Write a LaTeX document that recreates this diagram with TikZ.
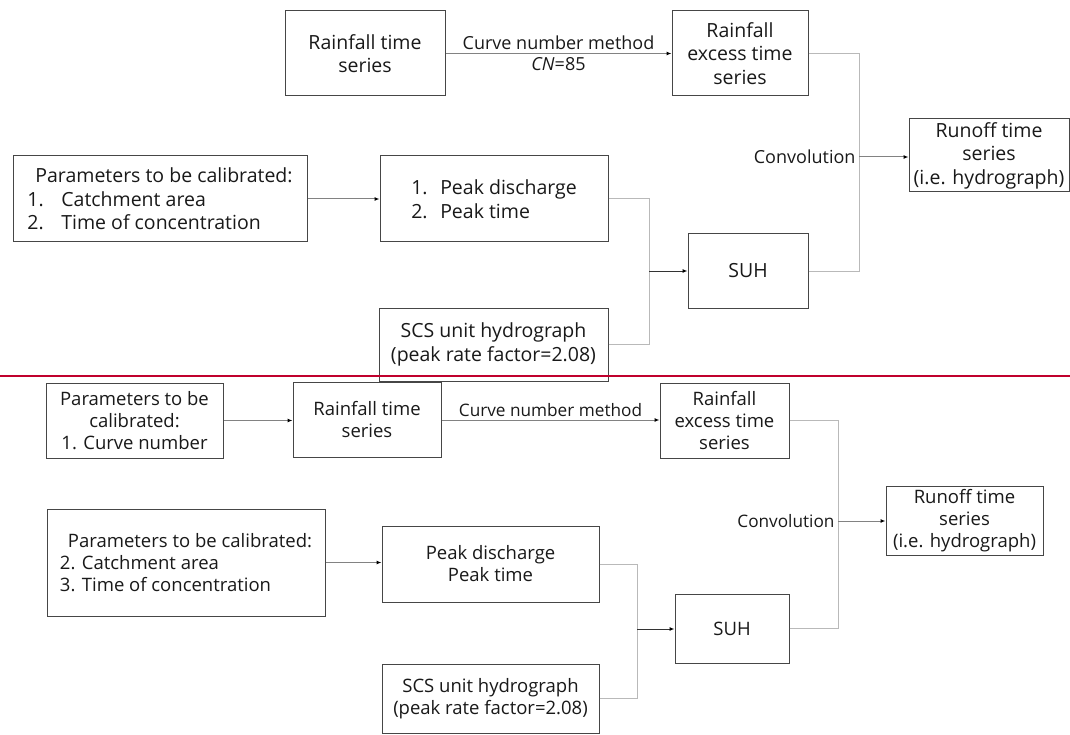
\documentclass[tikz,border=0pt]{standalone}
\usepackage{fontspec}
\setmainfont{Open Sans}
\usetikzlibrary{arrows.meta}
\definecolor{boxline}{RGB}{70,70,70}
\definecolor{wiregray}{RGB}{185,185,185}
\definecolor{flowgray}{RGB}{130,130,130}
\definecolor{splitred}{RGB}{192,0,45}

\begin{document}
\begin{tikzpicture}[x=1pt,y=-1pt,
  box/.style={draw=boxline,line width=1pt,align=center,inner sep=0pt,fill=white,text=black!90},
  bigfont/.style={font=\fontsize{19.5}{23.5}\selectfont},
  smallfont/.style={font=\fontsize{18.5}{22}\selectfont},
  lblbig/.style={font=\fontsize{18}{21}\selectfont,text=black!90},
  lblsmall/.style={font=\fontsize{17.2}{20}\selectfont,text=black!90},
  wire/.style={draw=wiregray,line width=1pt},
  flow/.style={draw=flowgray,line width=1pt,-{Latex[length=5pt,width=4pt,color=black]}}]
\useasboundingbox (0,0) rectangle (1070,735);
% first scheme
\node[box,bigfont,minimum width=160pt,minimum height=85pt] (RAIN1) at (365,53.5) {Rainfall time\\series};
\node[box,bigfont,minimum width=136pt,minimum height=85pt] (EXCESS1) at (740,53.5) {Rainfall\\excess time\\series};
\node[box,bigfont,align=left,minimum width=294pt,minimum height=86pt] (PARAM1) at (160,199) {\hspace*{8pt}Parameters to be calibrated:\\\makebox[34pt][l]{1.}Catchment area\\\makebox[34pt][l]{2.}Time of concentration};
\node[box,bigfont,align=left,minimum width=228pt,minimum height=86pt] (PEAK1) at (494,199) {\makebox[29pt][l]{1.}Peak discharge\\\makebox[29pt][l]{2.}Peak time};
\node[box,bigfont,minimum width=120pt,minimum height=74pt] (SUH1) at (748,271) {SUH};
\node[box,bigfont,minimum width=229pt,minimum height=73pt] (SCS1) at (493.5,344.5) {SCS unit hydrograph\\(peak rate factor=2.08)};
\node[box,bigfont,minimum width=160pt,minimum height=73pt] (RUNOFF1) at (989,155.5) {Runoff time\\series\\(i.e. hydrograph)};
\coordinate (JOIN1) at (649,271);
\coordinate (CONV1) at (859,157);
\draw[flow] (RAIN1) -- node[above,lblbig] (CNM1) {Curve number method} node[below,lblbig] (CN1) {\textit{CN}=85} (EXCESS1);
\draw[flow] (PARAM1) -- (PEAK1);
\draw[wire] (PEAK1.east) -| (JOIN1);
\draw[wire] (SCS1.east) -| (JOIN1);
\draw[flow,draw=black!80] (JOIN1) -- (JOIN1 -| SUH1.west);
\draw[wire] (EXCESS1.east) -| (CONV1);
\draw[wire] (SUH1.east) -| (CONV1);
\draw[flow] (CONV1) -- (CONV1 -| RUNOFF1.west);
\node[lblbig,left] (CONVL1) at (CONV1) {Convolution};
% separator
\draw[splitred,line width=2pt] (0,376) -- (1070,376);
% second scheme
\node[box,smallfont,minimum width=177pt,minimum height=75pt] (PARAM2) at (134.5,420.5) {Parameters to be\\calibrated:\\1. Curve number};
\node[box,smallfont,minimum width=148pt,minimum height=75pt] (RAIN2) at (367,420) {Rainfall time\\series};
\node[box,smallfont,minimum width=129pt,minimum height=75pt] (EXCESS2) at (724.5,420.5) {Rainfall\\excess time\\series};
\node[box,smallfont,align=left,minimum width=278pt,minimum height=107pt] (PARAM3) at (186,562.5) {\hspace*{8pt}Parameters to be calibrated:\\2. Catchment area\\3. Time of concentration};
\node[box,smallfont,minimum width=217pt,minimum height=76pt] (PEAK2) at (490.5,564) {Peak discharge\\Peak time};
\node[box,smallfont,minimum width=114pt,minimum height=69pt] (SUH2) at (732,628.5) {SUH};
\node[box,smallfont,minimum width=217pt,minimum height=69pt] (SCS2) at (490.5,698.5) {SCS unit hydrograph\\(peak rate factor=2.08)};
\node[box,smallfont,minimum width=157pt,minimum height=69pt] (RUNOFF2) at (964.5,520.5) {Runoff time\\series\\(i.e. hydrograph)};
\coordinate (JOIN2) at (637,629);
\coordinate (CONV2) at (838,521);
\draw[flow] (PARAM2) -- (PARAM2 -| RAIN2.west);
\draw[flow] (RAIN2) -- node[above,lblsmall] (CNM2) {Curve number method} (RAIN2 -| EXCESS2.west);
\draw[flow] (PARAM3) -- (PARAM3 -| PEAK2.west);
\draw[wire] (PEAK2.east) -| (JOIN2);
\draw[wire] (SCS2.east) -| (JOIN2);
\draw[flow,draw=black!80] (JOIN2) -- (JOIN2 -| SUH2.west);
\draw[wire] (EXCESS2.east) -| (CONV2);
\draw[wire] (SUH2.east) -| (CONV2);
\draw[flow] (CONV2) -- (CONV2 -| RUNOFF2.west);
\node[lblsmall,left] (CONVL2) at (CONV2) {Convolution};
\end{tikzpicture}
\end{document}
